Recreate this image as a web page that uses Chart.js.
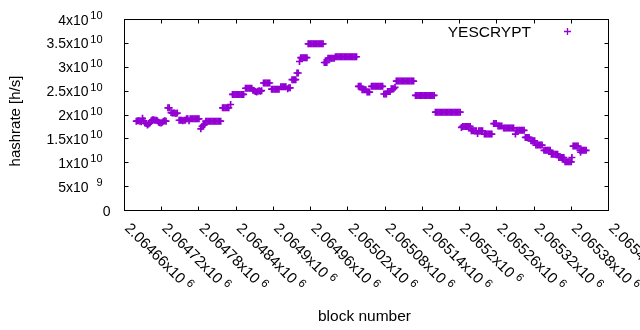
<!DOCTYPE html>
<html><head><meta charset="utf-8">
<script src="https://cdn.jsdelivr.net/npm/chart.js@4/dist/chart.umd.min.js"></script>
<style>html,body{margin:0;padding:0;background:#fff;}canvas{display:block;}</style>
</head><body>
<canvas id="c" width="640" height="330"></canvas>
<script>
const seriesName = "YESCRYPT";
const xTitle = "block number";
const yTitle = "hashrate [h/s]";
const xTickValues = [2064660,2064720,2064780,2064840,2064900,2064960,2065020,2065080,2065140,2065200,2065260,2065320,2065380,2065440];
const xTickMantissas = ["2.06466","2.06472","2.06478","2.06484","2.0649","2.06496","2.06502","2.06508","2.06514","2.0652","2.06526","2.06532","2.06538","2.06544"];
const xTickExponents = ["6","6","6","6","6","6","6","6","6","6","6","6","6","6"];
const yTickValues = [0,5e9,1e10,1.5e10,2e10,2.5e10,3e10,3.5e10,4e10];
const yTickMantissas = ["0","5","1","1.5","2","2.5","3","3.5","4"];
const yTickExponents = ["","9","10","10","10","10","10","10","10"];

const blocks = [
2064679,2064681,2064683,2064685,2064687,2064689,2064691,2064693,2064695,2064697,2064699,2064701,2064703,2064705,2064707,2064709,2064711,2064713,2064715,2064717,2064719,2064721,2064723,2064725,2064727,
2064730,2064732,2064735,2064737,2064739,2064741,2064743,2064745,
2064748,2064750,2064752,2064754,2064756,2064758,
2064760,2064762,2064764,2064766,2064768,2064770,2064772,2064774,2064776,2064778,2064780,
2064783,2064785,2064787,2064789,
2064791,2064793,2064795,2064797,2064799,2064801,2064803,2064805,2064807,2064809,2064811,2064813,2064815,
2064818,2064820,2064822,2064824,2064826,2064828,2064831,
2064834,2064836,2064838,2064840,2064842,2064844,2064846,2064848,2064850,2064852,
2064855,2064857,2064859,2064861,2064863,2064865,
2064867,2064869,2064871,2064873,2064875,2064877,2064879,2064881,
2064884,2064886,2064888,2064890,2064892,2064894,
2064897,2064899,2064901,2064903,2064905,2064907,2064909,
2064912,2064914,2064916,2064918,2064920,
2064923,2064925,2064927,
2064930,2064932,2064934,2064936,
2064938,2064940,2064942,
2064944,2064946,2064948,2064950,2064952,2064954,
2064956,2064958,2064960,2064962,2064964,2064966,2064968,2064970,2064972,2064974,2064976,2064978,2064980,
2064982,2064984,2064986,
2064988,2064990,2064992,2064994,2064996,2064998,
2065000,2065002,2065004,2065006,2065008,2065010,2065012,2065014,2065016,2065018,2065020,2065022,2065024,2065026,2065028,2065030,2065032,2065034,
2065037,2065039,2065041,
2065043,2065045,2065047,2065049,
2065051,2065053,2065055,
2065058,2065060,2065062,2065064,2065066,2065068,2065070,2065072,2065074,2065076,
2065078,2065080,2065082,
2065084,2065086,2065088,
2065090,2065092,2065094,2065096,
2065098,2065100,2065102,2065104,2065106,2065108,2065110,2065112,2065114,2065116,2065118,2065120,2065122,2065124,2065126,
2065129,2065131,2065133,2065135,2065137,2065139,2065141,2065143,2065145,2065147,2065149,2065151,2065153,2065155,2065157,2065159,
2065161,2065163,2065165,2065167,2065169,2065171,2065173,2065175,2065177,2065179,2065181,2065183,2065185,2065187,2065189,2065191,2065193,2065195,2065197,2065199,2065201,
2065203,2065205,2065207,2065209,2065211,2065213,2065215,2065217,
2065219,2065221,2065223,2065225,2065227,2065229,2065231,2065233,2065235,2065237,
2065240,2065242,2065244,2065246,2065248,2065250,2065252,
2065255,2065257,2065259,
2065262,2065264,2065266,2065268,
2065271,2065273,2065275,2065277,2065279,2065281,2065283,2065285,2065287,
2065290,2065292,2065294,2065296,2065298,2065300,2065302,2065304,
2065306,2065308,2065310,2065312,
2065315,2065317,2065319,2065321,
2065323,2065325,2065327,2065329,2065331,2065333,
2065336,2065338,2065340,2065342,2065344,2065346,
2065348,2065350,2065352,2065354,2065356,2065358,
2065360,2065362,2065364,2065366,2065368,
2065370,2065372,2065374,2065376,2065378,2065380,2065381,
2065383,2065385,2065387,2065389,2065391,
2065394,2065395,2065396,2065398,2065400,2065402,2065404
];

// hashrate in units of 10^10 h/s
const hashrateE10 = [
1.87,1.88,1.88,1.87,1.86,1.93,1.88,1.83,1.82,1.79,1.81,1.83,1.88,1.90,1.90,1.89,1.89,1.88,1.85,1.84,1.83,1.85,1.87,1.88,1.87,
2.15,2.15,2.05,2.04,2.04,2.04,2.03,2.04,
1.89,1.89,1.89,1.88,1.89,1.89,
1.92,1.92,1.88,1.92,1.92,1.92,1.92,1.92,1.92,1.92,1.92,
1.71,1.76,1.79,1.80,
1.87,1.87,1.87,1.87,1.87,1.87,1.87,1.87,1.87,1.87,1.87,1.87,1.87,
2.15,2.15,2.15,2.15,2.15,2.15,2.22,
2.43,2.43,2.43,2.43,2.43,2.43,2.43,2.43,2.43,2.43,
2.56,2.56,2.56,2.56,2.56,2.56,
2.52,2.51,2.49,2.48,2.50,2.51,2.50,2.51,
2.67,2.67,2.67,2.67,2.67,2.67,
2.54,2.54,2.54,2.54,2.54,2.54,2.54,
2.59,2.59,2.59,2.59,2.59,
2.55,2.57,2.57,
2.74,2.74,2.74,2.74,
2.88,2.88,3.12,
3.20,3.20,3.20,3.20,3.20,3.20,
3.49,3.49,3.49,3.49,3.49,3.49,3.49,3.49,3.49,3.49,3.49,3.49,3.49,
3.10,3.10,3.10,
3.19,3.19,3.19,3.19,3.19,3.19,
3.22,3.22,3.22,3.22,3.22,3.22,3.22,3.22,3.22,3.22,3.22,3.22,3.22,3.22,3.22,3.22,3.22,3.22,
2.60,2.60,2.60,
2.53,2.53,2.53,2.53,
2.48,2.48,2.48,
2.60,2.60,2.60,2.60,2.60,2.60,2.60,2.60,2.60,2.60,
2.44,2.44,2.44,
2.49,2.49,2.49,
2.55,2.55,2.55,2.58,
2.71,2.71,2.71,2.71,2.71,2.71,2.71,2.71,2.71,2.71,2.71,2.71,2.71,2.71,2.71,
2.41,2.41,2.41,2.41,2.41,2.41,2.41,2.41,2.41,2.41,2.41,2.41,2.41,2.41,2.41,2.41,
2.06,2.06,2.06,2.06,2.06,2.06,2.06,2.06,2.06,2.06,2.06,2.06,2.06,2.06,2.06,2.06,2.06,2.06,2.06,2.06,2.06,
1.74,1.76,1.76,1.76,1.76,1.76,1.76,1.76,
1.67,1.67,1.67,1.67,1.67,1.61,1.67,1.67,1.67,1.67,
1.60,1.60,1.60,1.60,1.60,1.60,1.60,
1.82,1.82,1.82,
1.77,1.77,1.77,1.77,
1.73,1.73,1.73,1.73,1.73,1.73,1.73,1.73,1.73,
1.60,1.68,1.68,1.68,1.68,1.68,1.68,1.68,
1.53,1.53,1.53,1.53,
1.46,1.46,1.46,1.46,
1.37,1.37,1.37,1.37,1.37,1.37,
1.26,1.26,1.26,1.26,1.26,1.26,
1.18,1.18,1.18,1.18,1.18,1.18,
1.11,1.11,1.11,1.11,1.11,
1.02,1.02,1.02,1.02,1.02,1.02,1.11,
1.35,1.35,1.35,1.35,1.35,
1.26,1.22,1.26,1.26,1.26,1.26,1.26
];
if (blocks.length !== hashrateE10.length) console.warn('length mismatch', blocks.length, hashrateE10.length);

const COLOR = '#9400d3';
const FONT = '"Liberation Sans", Arial, sans-serif';

const gnuplotFrame = {
  id: 'gnuplotFrame',
  afterDatasetsDraw(chart) {
    const ctx = chart.ctx, a = chart.chartArea, xs = chart.scales.x, ys = chart.scales.y;
    ctx.save();
    ctx.strokeStyle = '#000';
    ctx.lineWidth = 1;
    ctx.strokeRect(a.left, a.top, a.right - a.left, a.bottom - a.top);
    const T = 4;
    ctx.beginPath();
    xTickValues.forEach(v => {
      const px = Math.floor(xs.getPixelForValue(v)) + 0.5;
      ctx.moveTo(px, a.bottom); ctx.lineTo(px, a.bottom - T);
      ctx.moveTo(px, a.top); ctx.lineTo(px, a.top + T);
    });
    yTickValues.forEach(v => {
      const py = Math.floor(ys.getPixelForValue(v)) + 0.5;
      ctx.moveTo(a.left, py); ctx.lineTo(a.left + T, py);
      ctx.moveTo(a.right, py); ctx.lineTo(a.right - T, py);
    });
    ctx.stroke();

    ctx.fillStyle = '#000';
    const mainFont = '14px ' + FONT, supFont = '11px ' + FONT;
    // y tick labels
    yTickValues.forEach((v, i) => {
      const py = ys.getPixelForValue(v);
      ctx.textAlign = 'right';
      ctx.textBaseline = 'alphabetic';
      if (!yTickExponents[i]) {
        ctx.font = mainFont;
        ctx.fillText(yTickMantissas[i], a.left - 14, py + 5);
      } else {
        ctx.font = mainFont;
        ctx.fillText(yTickMantissas[i] + 'x10', a.left - 36, py + 5);
        ctx.font = supFont;
        ctx.fillText(yTickExponents[i], a.left - 22, py - 0.5);
      }
    });
    // x tick labels (rotated)
    const xMainFont = '15px ' + FONT, xSupFont = '11.5px ' + FONT;
    xTickValues.forEach((v, i) => {
      const px = xs.getPixelForValue(v);
      ctx.save();
      ctx.translate(px - 0.5, a.bottom + 18.5);
      ctx.rotate(Math.PI / 4);
      ctx.textAlign = 'left';
      ctx.textBaseline = 'alphabetic';
      ctx.font = xMainFont;
      const s = xTickMantissas[i] + 'x10';
      ctx.fillText(s, 0, 0);
      const w = ctx.measureText(s).width;
      ctx.font = xSupFont;
      ctx.fillText(xTickExponents[i], w + 4, -5);
      ctx.restore();
    });
    // axis titles
    ctx.font = '15.5px ' + FONT;
    ctx.textAlign = 'center';
    ctx.fillText(xTitle, 364.5, 321);
    ctx.font = '15px ' + FONT;
    ctx.save();
    ctx.translate(20, 121);
    ctx.rotate(-Math.PI / 2);
    ctx.fillText(yTitle, 0, 0);
    ctx.restore();
    // legend
    ctx.font = '15.5px ' + FONT;
    ctx.textAlign = 'right';
    ctx.fillText(seriesName, 531, 37);
    ctx.strokeStyle = COLOR;
    ctx.lineWidth = 1.3;
    ctx.beginPath();
    ctx.moveTo(564, 31.5); ctx.lineTo(571, 31.5);
    ctx.moveTo(567.5, 28); ctx.lineTo(567.5, 35);
    ctx.stroke();
    ctx.restore();
  }
};

new Chart(document.getElementById('c'), {
  type: 'scatter',
  data: {
    datasets: [{
      label: seriesName,
      data: blocks.map((b, i) => ({ x: b, y: hashrateE10[i] * 1e10 })),
      pointStyle: 'cross',
      pointRadius: 3.5,
      pointHoverRadius: 3.5,
      pointBorderWidth: 1.7,
      pointBorderColor: COLOR,
      pointBackgroundColor: COLOR,
      borderColor: COLOR,
      backgroundColor: COLOR,
      showLine: false
    }]
  },
  options: {
    responsive: false,
    animation: false,
    devicePixelRatio: 1,
    events: [],
    layout: { padding: { left: 124.5, right: 31.5, top: 19.5, bottom: 119.5 } },
    plugins: { legend: { display: false }, tooltip: { enabled: false } },
    scales: {
      x: { type: 'linear', display: false, min: 2064660, max: 2065440 },
      y: { type: 'linear', display: false, min: 0, max: 4e10 }
    }
  },
  plugins: [gnuplotFrame]
});
</script>
</body></html>
